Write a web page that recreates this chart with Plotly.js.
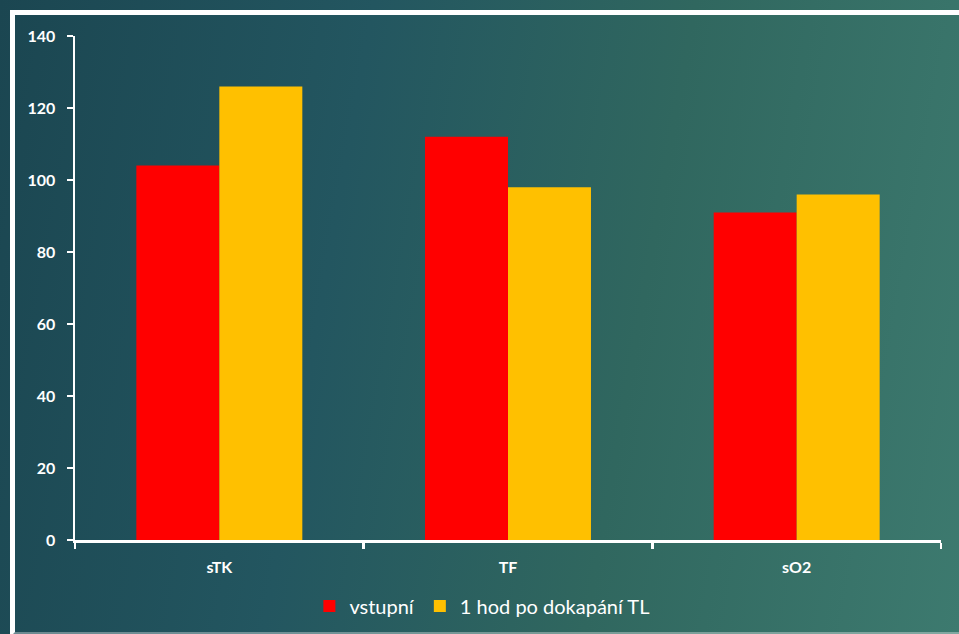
<!DOCTYPE html>
<html>
<head>
<meta charset="utf-8">
<script src="https://cdn.plot.ly/plotly-3.0.1.min.js"></script>
<style>
  html, body { margin: 0; padding: 0; width: 959px; height: 634px; overflow: hidden; }
  body { background: linear-gradient(100deg, #1b4651 0%, #235660 35%, #30675f 65%, #3d7a6f 100%); position: relative; }
  #frame { position: absolute; left: 10px; top: 10px; width: 1000px; height: 617px;
           border-left: 5px solid #ffffff; border-top: 5px solid #ffffff;
           border-bottom: 5px solid rgba(255,255,255,0.35); box-sizing: content-box; }
  #chart { position: absolute; left: 0; top: 0; width: 959px; height: 634px; }
</style>
</head>
<body>
<div id="frame"></div>
<div id="chart"></div>
<script>
// Values per category for the two measurement times
const categories = ['sTK', 'TF', 'sO2'];
const seriesNames = ['vstupní', '1 hod po dokapání TL'];
const vstupni = [104, 112, 91];
const poHodine = [126, 98, 96];
const yTicks = [0, 20, 40, 60, 80, 100, 120, 140];

const font = 'Lato, "Open Sans", sans-serif';

const traces = [
  { type: 'bar', name: seriesNames[0], x: categories, y: vstupni,
    marker: { color: '#ff0000' } },
  { type: 'bar', name: seriesNames[1], x: categories, y: poHodine,
    marker: { color: '#ffc000' } }
];

const layout = {
  width: 959, height: 634,
  margin: { l: 75, r: 18, t: 36, b: 94 },
  paper_bgcolor: 'rgba(0,0,0,0)',
  plot_bgcolor: 'rgba(0,0,0,0)',
  barmode: 'group',
  bargap: 0.425,
  bargroupgap: 0,
  showlegend: true,
  legend: {
    orientation: 'h',
    xref: 'container', x: 0.503, xanchor: 'center',
    yref: 'container', y: 0.044, yanchor: 'middle',
    font: { family: font, size: 20, color: '#ffffff' },
    itemwidth: 30, traceorder: 'normal'
  },
  xaxis: {
    type: 'category',
    automargin: false,
    showline: true, linecolor: '#ffffff', linewidth: 2.5,
    showgrid: false, zeroline: false,
    ticks: 'outside', ticklen: 6, tickwidth: 2.5, tickcolor: '#ffffff',
    tickson: 'boundaries',
    tickfont: { family: font, size: 16, color: '#ffffff', weight: 'bold' },
    ticklabelstandoff: 11
  },
  yaxis: {
    range: [0, 140],
    automargin: false,
    tickvals: yTicks,
    ticktext: yTicks.map(String),
    showline: true, linecolor: '#ffffff', linewidth: 2.5,
    showgrid: false, zeroline: false,
    ticks: 'outside', ticklen: 6, tickwidth: 2.5, tickcolor: '#ffffff',
    tickfont: { family: font, size: 16, color: '#ffffff', weight: 'bold' },
    ticklabelstandoff: 8
  }
};

Plotly.newPlot('chart', traces, layout, { displayModeBar: false, staticPlot: true });
</script>
</body>
</html>
